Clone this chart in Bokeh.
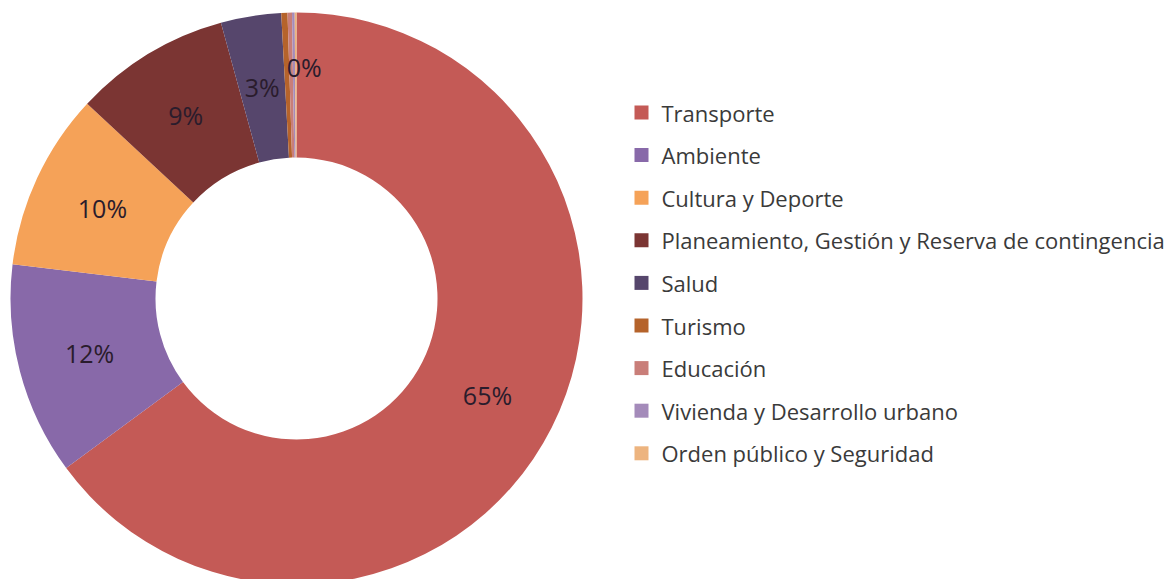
import math
from bokeh.plotting import figure
from bokeh.models import Range1d, ColumnDataSource
from bokeh.core.properties import value
from bokeh.embed import file_html
from bokeh.resources import INLINE

categories = ["Transporte", "Ambiente", "Cultura y Deporte",
              "Planeamiento, Gestión y Reserva de contingencia", "Salud",
              "Turismo", "Educación", "Vivienda y Desarrollo urbano",
              "Orden público y Seguridad"]
values = [64.8, 12.0, 10.0, 8.8, 3.4, 0.35, 0.25, 0.15, 0.1]
colors = ["#C45A56", "#8869A9", "#F5A258", "#7B3533", "#56466C",
          "#B5632B", "#C97E79", "#A48BBA", "#EDB47F"]

W, H = 1176, 579
p = figure(width=W, height=H, output_backend="svg", toolbar_location=None,
           x_range=Range1d(0, W), y_range=Range1d(0, H), min_border=0)
p.axis.visible = False
p.grid.visible = False
p.outline_line_color = None
p.background_fill_color = "white"
p.border_fill_color = "white"

cx, cy = 296, H - 298
r_in, r_out = 141, 286
total = sum(values)

starts, ends, lx, ly, ltxt, lalign = [], [], [], [], [], []
cum = 0.0
for v in values:
    c0 = cum / total
    cum += v
    c1 = cum / total
    starts.append(math.pi / 2 - 2 * math.pi * c1)
    ends.append(math.pi / 2 - 2 * math.pi * c0)
    share = v / total * 100
    if share >= 0.3:
        mid = math.pi / 2 - math.pi * (c0 + c1)
        if share >= 1:
            r = (r_in + r_out) / 2 + 0.5
            lalign.append("center")
        else:
            r = 232
            lalign.append("left")
        lx.append(cx + r * math.cos(mid))
        ly.append(cy + r * math.sin(mid))
        ltxt.append(f"{round(share)}%")

src = ColumnDataSource(dict(start=starts, end=ends, color=colors))
p.annular_wedge(x=cx, y=cy, inner_radius=r_in, outer_radius=r_out,
                start_angle="start", end_angle="end", direction="anticlock",
                fill_color="color", line_color=None, source=src)

lab = ColumnDataSource(dict(x=lx, y=ly, t=ltxt, a=lalign))
p.text(x="x", y="y", text="t", text_align="a", text_baseline="middle",
       text_font=value("Open Sans"), text_font_size="25px",
       text_color="#2A1C2C", source=lab)

# legend
ys = [H - (112 + i * 42.6) for i in range(len(categories))]
leg = ColumnDataSource(dict(x=[641] * len(categories), y=ys,
                            tx=[661] * len(categories), c=colors, t=categories))
p.rect(x="x", y="y", width=14, height=14, width_units="screen",
       height_units="screen", fill_color="c", line_color=None, source=leg)
p.text(x="tx", y="y", text="t", text_baseline="middle",
       text_font=value("Open Sans"), text_font_size="22px",
       text_color="#3A3A3A", source=leg)

open("out.html", "w").write(file_html(p, INLINE))
